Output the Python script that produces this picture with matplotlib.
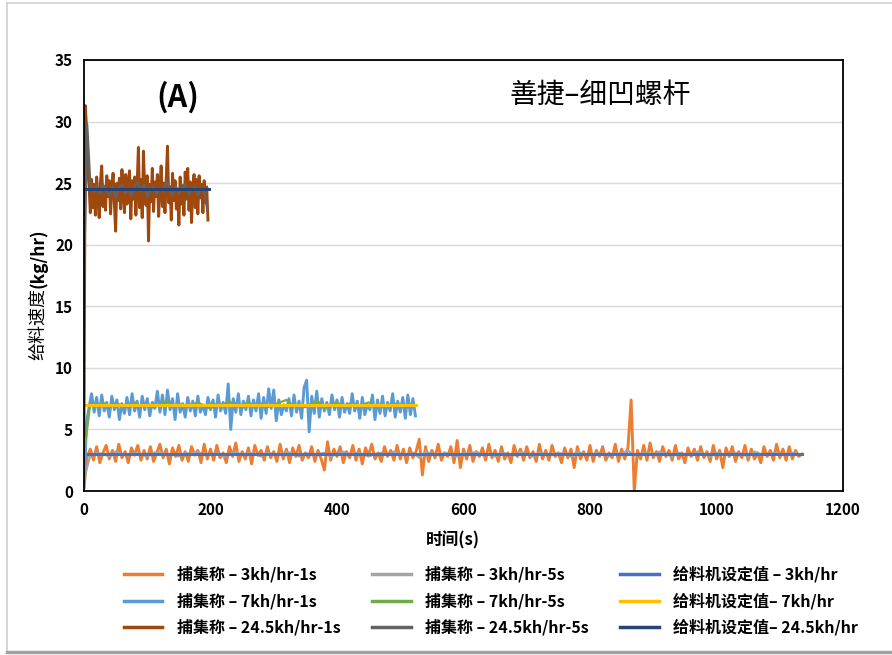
import matplotlib.pyplot as plt
import numpy as np
from matplotlib.lines import Line2D

plt.rcParams['font.family'] = ['Noto Sans CJK SC', 'DejaVu Sans']

# intervalos de muestreo (s)
paso_3_1s, paso_3_5s = 5, 10
paso_7_1s, paso_7_5s = 4, 10
paso_24_1s, paso_24_5s = 2, 5

v_3_1s = [0.3, 2.8, 3.4, 2.5, 3.6, 2.3, 3.1, 3.7, 2.6, 3.3, 2.4, 3.8, 2.7, 3.2, 2.3, 3.5, 2.9, 3.7, 2.5, 3.3,
          2.6, 3.6, 2.4, 3.1, 3.8, 2.7, 3.4, 2.2, 3.5, 2.8, 3.7, 2.5, 3.2, 2.4, 3.6, 2.9, 3.3, 2.3, 3.8, 2.6,
          3.4, 2.5, 3.7, 2.7, 3.1, 2.3, 3.6, 2.8, 3.9, 2.4, 3.2, 2.6, 3.5, 2.2, 3.7, 2.9, 3.3, 2.5, 3.6, 2.7,
          3.2, 2.4, 3.8, 2.6, 3.4, 2.3, 3.5, 2.8, 3.7, 2.5, 3.1, 2.7, 3.6, 2.4, 3.3, 2.6, 1.7, 4.0, 2.5, 3.4,
          2.8, 3.6, 2.3, 3.2, 2.7, 3.7, 2.5, 3.4, 2.2, 3.5, 2.9, 3.8, 2.6, 3.1, 2.4, 3.6, 2.8, 3.3, 2.5, 3.7,
          2.6, 3.4, 2.3, 3.5, 2.7, 3.2, 4.2, 1.3, 3.6, 2.4, 3.3, 2.7, 3.8, 2.5, 3.1, 2.8, 3.6, 2.3, 4.1, 1.9,
          3.4, 2.6, 3.7, 2.4, 3.2, 2.8, 3.5, 2.5, 3.8, 2.7, 3.3, 2.4, 3.6, 2.6, 3.1, 2.3, 3.7, 2.8, 3.4, 2.5,
          3.6, 2.7, 3.2, 2.4, 3.8, 2.6, 3.3, 2.5, 3.7, 2.8, 3.1, 2.3, 3.5, 2.7, 3.4, 1.9, 3.6, 2.6, 3.2, 2.5,
          3.7, 2.4, 3.3, 2.8, 3.6, 2.5, 3.1, 2.7, 3.8, 2.4, 3.4, 2.6, 3.5, 7.4, 0.0, 3.3, 2.6, 3.7, 2.5, 3.9,
          2.7, 3.2, 2.4, 3.6, 2.8, 3.3, 2.5, 3.7, 2.6, 3.1, 2.3, 3.5, 2.8, 3.4, 2.5, 3.6, 2.7, 3.2, 2.4, 3.7,
          2.6, 3.3, 1.9, 3.5, 2.8, 3.6, 2.4, 3.2, 2.7, 3.7, 2.5, 3.4, 2.6, 3.1, 2.3, 3.6, 2.8, 3.3, 2.5, 3.8,
          2.7, 3.4, 2.5, 3.6, 2.6, 3.3, 2.8, 3.0]
v_3_5s = [1.0, 2.9, 3.1, 3.0, 2.8, 3.2, 3.0, 2.9, 3.1, 3.0, 2.8, 3.1, 3.2, 2.9, 3.0, 2.8, 3.1, 3.0, 3.2, 2.9,
          3.0, 3.1, 2.8, 3.0, 3.2, 2.9, 3.1, 3.0, 2.8, 3.1, 3.0, 2.9, 3.2, 3.0, 2.8, 3.1, 2.9, 3.0, 3.1, 2.8,
          3.0, 3.2, 2.9, 3.1, 3.0, 2.8, 3.0, 3.1, 2.9, 3.2, 3.0, 2.9, 3.1, 2.7, 3.2, 3.0, 2.9, 3.1, 3.0, 2.8,
          3.1, 3.0, 3.2, 2.9, 3.0, 2.8, 3.1, 3.0, 2.9, 3.2, 3.0, 2.8, 3.1, 3.0, 2.9, 3.1, 3.0, 2.8, 3.2, 3.0,
          2.9, 3.1, 3.0, 2.8, 3.1, 3.0, 3.3, 2.9, 3.0, 3.1, 2.9, 3.2, 3.0, 2.8, 3.1, 3.0, 2.9, 3.2, 3.0, 2.8,
          3.1, 3.0, 2.9, 3.1, 3.0, 2.8, 3.2, 3.0, 2.9, 3.1, 3.0, 2.9, 3.1, 3.0]
v_7_1s = [0.3, 5.5, 6.8, 7.9, 6.4, 7.6, 6.1, 7.8, 6.5, 7.2, 6.0, 7.7, 6.6, 7.4, 5.8, 7.1, 6.3, 7.6, 6.2, 7.9,
          6.5, 7.3, 6.0, 7.7, 6.6, 7.5, 6.1, 7.2, 6.7, 8.1, 6.4, 7.8, 6.2, 8.2, 6.6, 7.5, 5.8, 7.9, 6.4, 7.1,
          6.0, 7.6, 6.5, 7.3, 6.1, 7.7, 6.4, 7.0, 6.2, 7.6, 6.6, 7.4, 6.0, 7.8, 6.5, 7.2, 6.3, 8.7, 5.0, 7.5,
          6.4, 7.9, 6.2, 7.3, 6.6, 7.7, 6.1, 7.4, 6.5, 7.9, 5.9, 7.6, 6.3, 8.3, 6.7, 8.2, 5.7, 7.4, 6.2, 7.0,
          6.5, 7.5, 6.1, 7.8, 6.4, 7.3, 5.9, 8.4, 9.0, 4.8, 7.7, 6.3, 8.1, 6.0, 7.5, 6.5, 7.2, 6.2, 7.8, 6.6,
          7.4, 6.0, 7.6, 6.4, 7.1, 6.3, 7.9, 6.5, 7.3, 5.9, 7.6, 6.2, 7.0, 6.6, 7.8, 5.8, 7.4, 6.3, 7.7, 6.1,
          7.2, 6.5, 7.9, 6.0, 7.3, 6.4, 7.6, 5.9, 7.8, 6.2, 7.5, 6.1]
v_7_5s = [3.0, 7.1, 6.9, 7.2, 6.8, 7.1, 7.0, 6.8, 7.2, 6.9, 7.1, 6.8, 7.0, 7.3, 6.9, 7.1, 6.8, 7.0, 7.2, 6.9,
          6.7, 7.1, 7.0, 7.3, 6.8, 7.0, 7.2, 6.9, 7.1, 6.8, 7.0, 7.2, 7.4, 6.9, 7.0, 6.8, 7.1, 7.3, 6.7, 7.0,
          7.2, 6.9, 7.1, 6.8, 7.0, 7.2, 6.9, 7.0, 6.8, 7.1, 7.0, 6.9, 7.1]
v_24_1s = [4.5, 31.3, 29.6, 26.0, 24.8, 22.6, 25.3, 23.0, 24.9, 22.4, 25.5, 23.8, 22.2, 25.1, 26.4, 23.1, 24.7,
           22.8, 25.6, 23.9, 25.2, 22.5, 24.6, 25.8, 23.4, 21.1, 25.0, 23.6, 25.4, 22.9, 26.1, 24.2, 22.6, 25.7,
           23.3, 24.9, 26.0, 22.1, 25.2, 23.7, 25.5, 22.4, 24.8, 27.9, 23.0, 25.3, 22.2, 27.6, 24.5, 23.2, 25.6,
           20.3, 24.9, 23.5, 26.2, 22.7, 25.1, 23.9, 25.7, 22.3, 24.6, 26.4, 23.1, 25.0, 22.6, 25.4, 28.0, 23.4,
           24.7, 22.0, 25.8, 23.6, 25.2, 22.9, 24.5, 21.6, 25.5, 23.3, 24.8, 22.4, 25.9, 23.7, 26.2, 22.8, 25.1,
           21.8, 24.6, 25.7, 23.0, 25.3, 22.5, 25.6, 23.8, 24.9, 22.6, 25.2, 23.4, 24.7, 22.0]
v_24_5s = [17.0, 29.8, 25.0, 24.3, 24.8, 24.1, 24.9, 24.4, 24.0, 24.7, 23.8, 24.6, 24.9, 24.2, 24.5, 24.0,
           24.8, 25.1, 24.3, 24.9, 23.9, 24.4, 24.7, 24.1, 24.6, 24.3, 25.2, 24.5, 24.0, 24.8, 24.2, 24.6,
           24.9, 24.1, 24.4, 24.7, 24.0, 24.5, 24.3, 22.8]

# valores de consigna del alimentador
sp_3_t, sp_3 = [0, 1135], [3, 3]
sp_7_t, sp_7 = [0, 525], [7, 7]
sp_24_t, sp_24 = [0, 197], [24.5, 24.5]

etiquetas = ['捕集称 – 3kh/hr-1s', '捕集称 – 3kh/hr-5s', '给料机设定值 – 3kh/hr',
             '捕集称 – 7kh/hr-1s', '捕集称 – 7kh/hr-5s', '给料机设定值– 7kh/hr',
             '捕集称 – 24.5kh/hr-1s', '捕集称 – 24.5kh/hr-5s', '给料机设定值– 24.5kh/hr']
colores = ['#ED7D31', '#A5A5A5', '#4472C4',
           '#5B9BD5', '#70AD47', '#FFC000',
           '#9E480E', '#636363', '#264478']


def tiempo(vals, paso):
    return np.arange(len(vals)) * paso


series = [(tiempo(v_3_1s, paso_3_1s), v_3_1s), (tiempo(v_3_5s, paso_3_5s), v_3_5s), (sp_3_t, sp_3),
          (tiempo(v_7_1s, paso_7_1s), v_7_1s), (tiempo(v_7_5s, paso_7_5s), v_7_5s), (sp_7_t, sp_7),
          (tiempo(v_24_1s, paso_24_1s), v_24_1s), (tiempo(v_24_5s, paso_24_5s), v_24_5s), (sp_24_t, sp_24)]

fig = plt.figure(figsize=(8.92, 6.55), dpi=100)
ax = fig.add_axes([84 / 892, 1 - 491 / 655, (843 - 84) / 892, (491 - 60) / 655])

handles = []
for i, ((t, v), lab, col) in enumerate(zip(series, etiquetas, colores)):
    lw = 2.2 if i % 3 == 2 else (2.1 if i % 3 == 0 else 1.6)
    h, = ax.plot(t, v, color=col, lw=lw, label=lab)
    handles.append(h)

ax.set_xlim(0, 1200)
ax.set_ylim(0, 35)
ax.set_xticks(np.arange(0, 1201, 200))
ax.set_yticks(np.arange(0, 36, 5))
ax.grid(axis='y', color='#D9D9D9', lw=1)
ax.set_axisbelow(True)
ax.tick_params(length=0, pad=8)
for lab in ax.get_xticklabels() + ax.get_yticklabels():
    lab.set_fontweight('bold')
    lab.set_fontsize(11)
for s in ax.spines.values():
    s.set_color('black')
    s.set_linewidth(1.3)

fig.text(178 / 892, 1 - 97 / 655, '(A)', fontsize=22, fontweight='bold', ha='center', va='center')
fig.text(600 / 892, 1 - 95 / 655, '善捷–细凹螺杆', fontsize=20, ha='center', va='center')
fig.text(453 / 892, 1 - 540 / 655, '时间(s)', fontsize=12, fontweight='bold', ha='center', va='center')

# etiqueta del eje y en dos partes
t1 = fig.text(38 / 892, 1 - 360 / 655, '给料速度', fontsize=13, rotation=90, ha='center', va='bottom')
fig.canvas.draw()
bb = t1.get_window_extent()
fig.text(38 / 892, bb.y1 / fig.bbox.height, '(kg/hr)', fontsize=12.5, fontweight='bold',
         rotation=90, ha='center', va='bottom')

# orden por columnas para que la leyenda se lea por filas
orden = [0, 3, 6, 1, 4, 7, 2, 5, 8]
leg = fig.legend([handles[k] for k in orden], [etiquetas[k] for k in orden], ncol=3,
                 loc='center', bbox_to_anchor=(491 / 892, 1 - 601 / 655), frameon=False,
                 prop={'weight': 'bold', 'size': 11.5}, handlelength=2.4, handletextpad=0.9,
                 columnspacing=2.0, labelspacing=0.62)
for ln in leg.get_lines():
    ln.set_linewidth(2.5)

# marco exterior
fig.add_artist(Line2D([7 / 892, 7 / 892], [1 - 652 / 655, 1 - 3 / 655], color='#D0D0D0', lw=1.2))
fig.add_artist(Line2D([7 / 892, 1], [1 - 3 / 655, 1 - 3 / 655], color='#D0D0D0', lw=1.2))
fig.add_artist(Line2D([7 / 892, 1], [1 - 652 / 655, 1 - 652 / 655], color='#A0A0A0', lw=2.5))

fig.savefig('out.png', dpi=100)
